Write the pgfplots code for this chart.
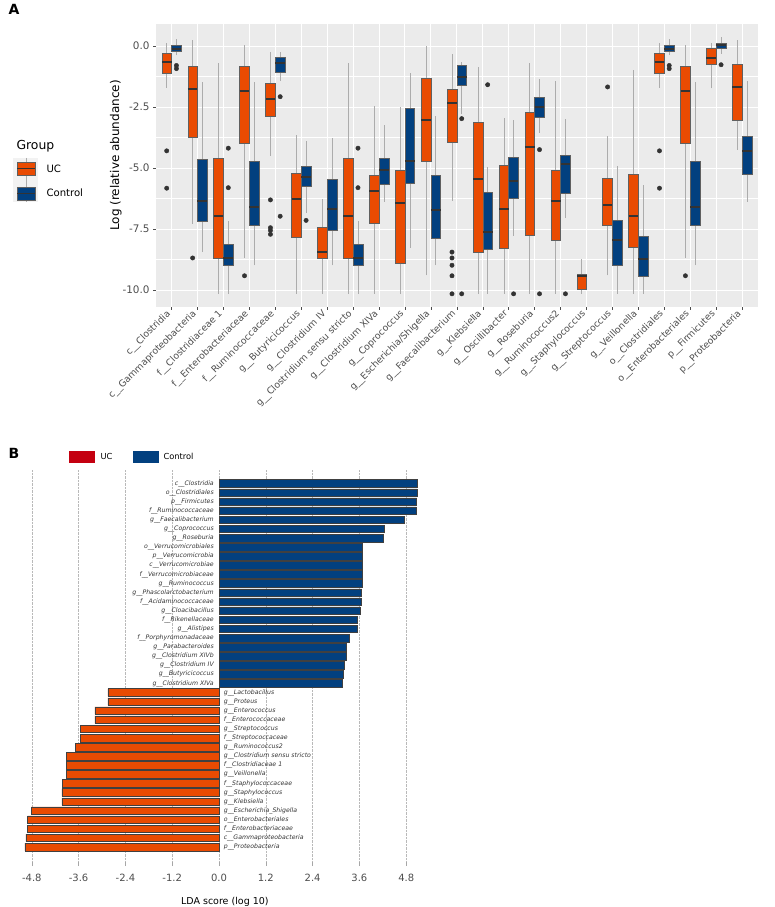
\documentclass[border=0pt]{standalone}
\usepackage{fontspec}
\setmainfont{DejaVu Sans}
\usepackage{pgfplots}
\pgfplotsset{compat=1.18}
\definecolor{ucor}{HTML}{E94B02}
\definecolor{ctb}{HTML}{02407F}
\definecolor{panelbg}{HTML}{EBEBEB}
\definecolor{txtgray}{HTML}{4D4D4D}
\definecolor{legred}{HTML}{C40010}
\pgfplotsset{
  ucbox/.style={fill=ucor, draw=gray!75!black, line width=0.5pt, mark=none},
  ctbox/.style={fill=ctb, draw=gray!75!black, line width=0.5pt, mark=none},
  whisk/.style={draw=gray!65, line width=0.6pt, mark=none},
  medl/.style={draw=black!80, line width=2pt, mark=none}}
% #1 style, #2 left, #3 centre, #4 right, #5 lower whisker, #6 lower quartile, #7 median, #8 upper quartile, #9 upper whisker
\newcommand{\mybox}[9]{%
  \addplot[whisk] coordinates {(#3,#5) (#3,#9)};
  \addplot[#1] coordinates {(#2,#6) (#4,#6) (#4,#8) (#2,#8)} -- cycle;
  \addplot[medl] coordinates {(#2,#7) (#4,#7)};}
\begin{document}
\begin{tikzpicture}[x=1pt,y=1pt]
\path[use as bounding box] (0,0) rectangle (774,907);
\node[anchor=west, font=\bfseries\fontsize{14}{16}\selectfont] at (5,898) {A};
\node[anchor=west, font=\bfseries\fontsize{14}{16}\selectfont] at (5,454) {B};
% ---------------- Panel A ----------------
\begin{axis}[at={(156pt,600pt)}, anchor=south west, scale only axis,
  width=601.7pt, height=283pt,
  xmin=0.4, xmax=23.6, ymin=-10.69, ymax=0.91,
  axis background/.style={fill=panelbg},
  axis line style={draw=none},
  tick align=outside, major tick length=3pt, minor tick length=0pt,
  tick style={txtgray, line width=0.5pt},
  xtick pos=bottom, ytick pos=left,
  xtick={1,...,23},
  xticklabels={c\_\_Clostridia, c\_\_Gammaproteobacteria, f\_\_Clostridiaceae 1, f\_\_Enterobacteriaceae, f\_\_Ruminococcaceae, g\_\_Butyricicoccus, g\_\_Clostridium IV, g\_\_Clostridium sensu stricto, g\_\_Clostridium XIVa, g\_\_Coprococcus, g\_\_Escherichia/Shigella, g\_\_Faecalibacterium, g\_\_Klebsiella, g\_\_Oscillibacter, g\_\_Roseburia, g\_\_Ruminococcus2, g\_\_Staphylococcus, g\_\_Streptococcus, g\_\_Veillonella, o\_\_Clostridiales, o\_\_Enterobacteriales, p\_\_Firmicutes, p\_\_Proteobacteria},
  xticklabel style={rotate=45, anchor=east, font=\fontsize{9.3}{10}\selectfont, text=txtgray},
  ytick={-10,-7.5,-5,-2.5,0}, yticklabels={-10.0,-7.5,-5.0,-2.5,0.0},
  yticklabel style={font=\fontsize{10.4}{12}\selectfont, text=txtgray},
  minor ytick={-8.75,-6.25,-3.75,-1.25},
  xmajorgrids, ymajorgrids, yminorgrids,
  major grid style={white, line width=1pt},
  minor grid style={white, line width=0.5pt},
  ylabel={Log (relative abundance)},
  ylabel style={font=\fontsize{12}{14}\selectfont, xshift=10pt, yshift=-6pt},
]
% UC
\mybox{ucbox}{0.625}{0.8125}{1}{-1.70}{-1.09}{-0.65}{-0.30}{0.14}
\mybox{ucbox}{1.625}{1.8125}{2}{-7.28}{-3.74}{-1.77}{-0.82}{0.24}
\mybox{ucbox}{2.625}{2.8125}{3}{-10.15}{-8.68}{-6.94}{-4.60}{-0.68}
\mybox{ucbox}{3.625}{3.8125}{4}{-8.68}{-3.99}{-1.82}{-0.82}{0.05}
\mybox{ucbox}{4.625}{4.8125}{5}{-4.49}{-2.88}{-2.15}{-1.50}{-0.22}
\mybox{ucbox}{5.625}{5.8125}{6}{-10.15}{-7.82}{-6.26}{-5.21}{-3.65}
\mybox{ucbox}{6.625}{6.8125}{7}{-10.15}{-8.68}{-8.44}{-7.44}{-6.26}
\mybox{ucbox}{7.625}{7.8125}{8}{-10.15}{-8.68}{-6.94}{-4.60}{-0.68}
\mybox{ucbox}{8.625}{8.8125}{9}{-10.15}{-7.25}{-5.93}{-5.31}{-2.45}
\mybox{ucbox}{9.625}{9.8125}{10}{-10.15}{-8.91}{-6.42}{-5.09}{-2.50}
\mybox{ucbox}{10.625}{10.8125}{11}{-9.39}{-4.73}{-3.02}{-1.33}{0.00}
\mybox{ucbox}{11.625}{11.8125}{12}{-6.33}{-3.95}{-2.31}{-1.77}{-0.33}
\mybox{ucbox}{12.625}{12.8125}{13}{-10.15}{-8.46}{-5.44}{-3.13}{-0.84}
\mybox{ucbox}{13.625}{13.8125}{14}{-10.15}{-8.27}{-6.67}{-4.87}{-2.93}
\mybox{ucbox}{14.625}{14.8125}{15}{-10.15}{-7.76}{-4.12}{-2.69}{-0.68}
\mybox{ucbox}{15.625}{15.8125}{16}{-10.15}{-7.96}{-6.35}{-5.09}{-1.43}
\mybox{ucbox}{16.625}{16.8125}{17}{-10.15}{-9.97}{-9.41}{-9.36}{-8.71}
\mybox{ucbox}{17.625}{17.8125}{18}{-9.39}{-7.35}{-6.50}{-5.41}{-3.67}
\mybox{ucbox}{18.625}{18.8125}{19}{-10.15}{-8.24}{-6.94}{-5.24}{-0.98}
\mybox{ucbox}{19.625}{19.8125}{20}{-1.70}{-1.09}{-0.65}{-0.30}{0.14}
\mybox{ucbox}{20.625}{20.8125}{21}{-8.68}{-3.99}{-1.82}{-0.82}{0.05}
\mybox{ucbox}{21.625}{21.8125}{22}{-1.73}{-0.76}{-0.50}{-0.07}{0.14}
\mybox{ucbox}{22.625}{22.8125}{23}{-4.24}{-3.03}{-1.67}{-0.75}{0.27}
% Control
\mybox{ctbox}{1}{1.1875}{1.375}{-0.38}{-0.22}{-0.10}{0.05}{0.30}
\mybox{ctbox}{2}{2.1875}{2.375}{-8.44}{-7.18}{-6.33}{-4.63}{-1.47}
\mybox{ctbox}{3}{3.1875}{3.375}{-10.15}{-8.98}{-8.68}{-8.11}{-7.17}
\mybox{ctbox}{4}{4.1875}{4.375}{-8.98}{-7.32}{-6.60}{-4.73}{-1.46}
\mybox{ctbox}{5}{5.1875}{5.375}{-1.43}{-1.06}{-0.68}{-0.45}{-0.22}
\mybox{ctbox}{6}{6.1875}{6.375}{-6.84}{-5.74}{-5.35}{-4.94}{-3.88}
\mybox{ctbox}{7}{7.1875}{7.375}{-8.98}{-7.55}{-6.67}{-5.44}{-3.77}
\mybox{ctbox}{8}{8.1875}{8.375}{-10.15}{-8.98}{-8.68}{-8.11}{-7.17}
\mybox{ctbox}{9}{9.1875}{9.375}{-6.37}{-5.67}{-5.06}{-4.59}{-3.22}
\mybox{ctbox}{10}{10.1875}{10.375}{-8.26}{-5.61}{-4.69}{-2.56}{-1.09}
\mybox{ctbox}{11}{11.1875}{11.375}{-8.98}{-7.86}{-6.71}{-5.27}{-2.88}
\mybox{ctbox}{12}{12.1875}{12.375}{-2.79}{-1.59}{-1.27}{-0.79}{-0.63}
\mybox{ctbox}{13}{13.1875}{13.375}{-10.15}{-8.34}{-7.62}{-5.99}{-4.95}
\mybox{ctbox}{14}{14.1875}{14.375}{-7.76}{-6.22}{-5.51}{-4.56}{-3.02}
\mybox{ctbox}{15}{15.1875}{15.375}{-3.54}{-2.90}{-2.48}{-2.08}{-1.36}
\mybox{ctbox}{16}{16.1875}{16.375}{-7.05}{-6.03}{-4.82}{-4.49}{-2.97}
\mybox{ctbox}{18}{18.1875}{18.375}{-10.15}{-8.98}{-7.95}{-7.14}{-4.90}
\mybox{ctbox}{19}{19.1875}{19.375}{-10.15}{-9.41}{-8.71}{-7.78}{-5.69}
\mybox{ctbox}{20}{20.1875}{20.375}{-0.38}{-0.22}{-0.10}{0.05}{0.30}
\mybox{ctbox}{21}{21.1875}{21.375}{-8.98}{-7.32}{-6.60}{-4.73}{-1.46}
\mybox{ctbox}{22}{22.1875}{22.375}{-0.30}{-0.07}{0.04}{0.14}{0.38}
\mybox{ctbox}{23}{23.1875}{23.375}{-6.37}{-5.24}{-4.31}{-3.70}{-1.44}
% outliers
\addplot[only marks, mark=*, mark size=2.2pt, draw=black!80, fill=black!80] coordinates {
(0.8125,-4.29) (0.8125,-5.82) (1.8125,-8.68) (3.8125,-9.41)
(4.8125,-6.30) (4.8125,-7.44) (4.8125,-7.55) (4.8125,-7.71)
(11.8125,-8.44) (11.8125,-8.68) (11.8125,-8.98) (11.8125,-9.41) (11.8125,-10.15)
(17.8125,-1.67) (19.8125,-4.29) (19.8125,-5.82) (20.8125,-9.41)
(1.1875,-0.79) (1.1875,-0.92) (3.1875,-4.18) (3.1875,-5.80)
(5.1875,-2.07) (5.1875,-6.97) (6.1875,-7.14) (8.1875,-4.18) (8.1875,-5.80)
(12.1875,-2.97) (12.1875,-10.15) (13.1875,-1.58) (14.1875,-10.15)
(15.1875,-4.24) (15.1875,-10.15) (16.1875,-10.15)
(20.1875,-0.79) (20.1875,-0.92) (22.1875,-0.76)};
\end{axis}
% legend A
\node[anchor=west, font=\fontsize{12.4}{14}\selectfont] at (13,761) {Group};
\fill[gray!10] (13,705) rectangle (38,749);
\draw[gray!65, line width=0.6pt] (26,749) -- (26,705);
\filldraw[fill=ucor, draw=gray!75!black, line width=0.5pt] (17,732) rectangle (35,745);
\draw[black!80, line width=1.5pt] (17,738.5) -- (35,738.5);
\filldraw[fill=ctb, draw=gray!75!black, line width=0.5pt] (17,707) rectangle (35,720);
\draw[black!80, line width=1.5pt] (17,713.5) -- (35,713.5);
\node[anchor=west, font=\fontsize{10.1}{12}\selectfont] at (43,738) {UC};
\node[anchor=west, font=\fontsize{10.1}{12}\selectfont] at (43,714) {Control};
% ---------------- Panel B ----------------
\fill[legred] (69.3,444.3) rectangle (95.3,456.3);
\node[anchor=west, font=\fontsize{8.3}{10}\selectfont] at (97,450.5) {UC};
\fill[ctb] (132.7,444.3) rectangle (159,456.3);
\node[anchor=west, font=\fontsize{8.3}{10}\selectfont] at (160,450.5) {Control};
\begin{axis}[at={(12.3pt,45pt)}, anchor=south west, scale only axis,
  width=425.1pt, height=392pt,
  xmin=-5.3, xmax=5.6, ymin=-0.486, ymax=42.65, y dir=reverse,
  axis line style={draw=none},
  xtick={-4.8,-3.6,-2.4,-1.2,0,1.2,2.4,3.6,4.8},
  xticklabels={-4.8,-3.6,-2.4,-1.2,0.0,1.2,2.4,3.6,4.8},
  xticklabel style={font=\fontsize{10}{12}\selectfont, text=txtgray, yshift=-5pt},
  xtick pos=bottom, tick align=outside, major tick length=4pt,
  x tick style={gray!70, line width=0.4pt},
  xmajorgrids, x grid style={gray!55, densely dotted, line width=0.5pt},
  ytick={1,...,23},
  y tick style={draw=none},
  yticklabels={c\_\_Clostridia, o\_\_Clostridiales, p\_\_Firmicutes, f\_\_Ruminococcaceae, g\_\_Faecalibacterium, g\_\_Coprococcus, g\_\_Roseburia, o\_\_Verrucomicrobiales, p\_\_Verrucomicrobia, c\_\_Verrucomicrobiae, f\_\_Verrucomicrobiaceae, g\_\_Ruminococcus, g\_\_Phascolarctobacterium, f\_\_Acidaminococcaceae, g\_\_Cloacibacillus, f\_\_Rikenellaceae, g\_\_Alistipes, f\_\_Porphyromonadaceae, g\_\_Parabacteroides, g\_\_Clostridium XIVb, g\_\_Clostridium IV, g\_\_Butyricicoccus, g\_\_Clostridium XIVa},
  yticklabel style={anchor=east, xshift=209pt, font=\itshape\fontsize{6.2}{7}\selectfont, text=black!80},
  extra y ticks={24,...,41},
  extra y tick labels={g\_\_Lactobacillus, g\_\_Proteus, g\_\_Enterococcus, f\_\_Enterococcaceae, g\_\_Streptococcus, f\_\_Streptococcaceae, g\_\_Ruminococcus2, g\_\_Clostridium sensu stricto, f\_\_Clostridiaceae 1, g\_\_Veillonella, f\_\_Staphylococcaceae, g\_\_Staphylococcus, g\_\_Klebsiella, g\_\_Escherichia\_Shigella, o\_\_Enterobacteriales, f\_\_Enterobacteriaceae, c\_\_Gammaproteobacteria, p\_\_Proteobacteria},
  extra y tick style={yticklabel style={anchor=west, xshift=3pt}},
  xlabel={LDA score (log 10)},
  xlabel style={font=\fontsize{9.5}{11}\selectfont, yshift=-8pt},
]
\addplot[xbar, bar shift=0pt, bar width=7.6pt, fill=ctb, draw=black!75, line width=0.5pt] coordinates {
(5.08,1) (5.08,2) (5.07,3) (5.06,4) (4.75,5) (4.24,6) (4.22,7) (3.67,8) (3.67,9) (3.67,10)
(3.67,11) (3.67,12) (3.66,13) (3.65,14) (3.62,15) (3.54,16) (3.54,17) (3.33,18) (3.26,19)
(3.25,20) (3.21,21) (3.19,22) (3.16,23)};
\addplot[xbar, bar shift=0pt, bar width=7.6pt, fill=ucor, draw=black!75, line width=0.5pt] coordinates {
(-2.85,24) (-2.85,25) (-3.18,26) (-3.18,27) (-3.56,28) (-3.56,29) (-3.68,30) (-3.91,31)
(-3.91,32) (-3.92,33) (-4.01,34) (-4.03,35) (-4.03,36) (-4.81,37) (-4.91,38) (-4.91,39)
(-4.95,40) (-4.98,41)};
\end{axis}
\end{tikzpicture}
\end{document}
